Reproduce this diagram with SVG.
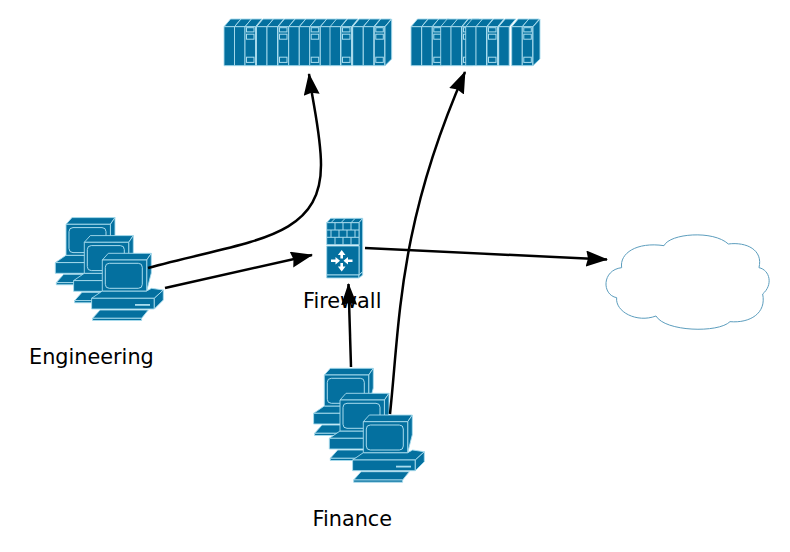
<svg xmlns="http://www.w3.org/2000/svg" width="790" height="552" viewBox="0 0 790 552">
<style>
.b{fill:#04709f;stroke:#a9dcee;stroke-width:.9;stroke-linejoin:round}
.s{fill:none;stroke:#a9dcee;stroke-width:1}
.c{fill:none;stroke:#000;stroke-width:2.5;marker-end:url(#arrow)}
.t{font-family:"DejaVu Sans",sans-serif;font-size:20.8px;fill:#000}
</style>
<defs>
<marker id="arrow" markerUnits="userSpaceOnUse" markerWidth="24" markerHeight="18" refX="21" refY="8" orient="auto">
<path d="M0,0 L22,8 L0,16 L2,8 Z" fill="#000"/>
</marker>
<g id="pc">
<path class="b" d="M-9.7,58.3 L-2.3,50 L46,50 L39.3,58.3 Z"/>
<path class="b" d="M-9.7,58.3 H39.3 V60.5 H-9.7 Z"/>
<path class="b" d="M-10.7,38.3 L0,31 H44.3 L49.3,28.3 L61,30 L52,38.3 Z"/>
<rect class="b" x="-10.7" y="38.3" width="62.7" height="10.7"/>
<path class="b" d="M52,38.3 L61,30 V40 L52,49 Z"/>
<rect x="32.7" y="44" width="15" height="1.8" fill="#a9dcee"/>
<path class="b" d="M0,0 L6,-6.7 H49 L44.4,0 Z"/>
<path class="b" d="M44.4,0 L49,-6.7 V13 L44.4,31 Z"/>
<rect class="b" x="0" y="0" width="44.4" height="31"/>
<rect class="s" x="3" y="3.3" width="37" height="25" rx="4"/>
</g>
<g id="mod">
<path class="b" d="M0,0 L6.5,-7.7 H17 L10.5,0 Z"/>
<rect class="b" x="0" y="0" width="10.5" height="39"/>
</g>
<g id="slot">
<use href="#mod"/>
<rect class="s" x="1.5" y="1" width="7.5" height="4.2"/>
<rect class="s" x="1.5" y="7.5" width="7.5" height="5"/>
<rect class="s" x="1.5" y="30.5" width="7.5" height="5.2"/>
</g>
</defs>
<g id="storage-1">
<g transform="translate(0,26.7)">
<use href="#mod" x="224"/><use href="#mod" x="234.5"/><use href="#slot" x="245"/><use href="#mod" x="256.5"/><use href="#mod" x="267"/><use href="#slot" x="278"/><use href="#mod" x="288.7"/><use href="#mod" x="299.3"/><use href="#slot" x="309.7"/><use href="#mod" x="320.3"/><use href="#mod" x="330"/><use href="#slot" x="341"/><use href="#mod" x="352.7"/><use href="#mod" x="363.3"/><use href="#slot" x="374.3"/>
</g>
<path class="b" d="M385,26.7 L391.7,19 V59 L385,65.7 Z"/>
</g>
<g id="storage-2">
<g transform="translate(0,26.7)">
<use href="#mod" x="411"/><use href="#mod" x="421.7"/><use href="#slot" x="432.3"/><use href="#mod" x="440.7"/><use href="#mod" x="451"/><use href="#slot" x="462"/><use href="#mod" x="465.7"/><use href="#mod" x="476"/><use href="#slot" x="487"/><use href="#mod" x="498.7"/><use href="#mod" x="511.7"/><use href="#slot" x="522.3"/>
</g>
<path class="b" d="M533,26.7 L540,19 V59 L533,65.7 Z"/>
</g>
<g id="engineering">
<use href="#pc" x="66" y="224.3"/><use href="#pc" x="84.3" y="242.3"/><use href="#pc" x="102.3" y="260"/>
<text class="t" x="29" y="364">Engineering</text>
</g>
<g id="finance">
<use href="#pc" transform="translate(324.3,375)"/><use href="#pc" transform="translate(340,400)"/><use href="#pc" transform="translate(363.3,421.7)"/>
<text class="t" x="312.5" y="526">Finance</text>
</g>
<g id="firewall">
<path class="b" d="M326.7,222.7 L330.7,218.3 H362.7 L359,222.7 Z"/>
<path class="b" d="M359,222.7 L362.7,218.3 V271.7 L359,275 Z"/>
<rect class="b" x="326.7" y="222.7" width="32.3" height="22"/>
<path class="s" d="M326.7,230 H359 M326.7,237.3 H359 M335,222.7 V230 M343,222.7 V230 M351,222.7 V230 M331,230 V237.3 M339,230 V237.3 M347,230 V237.3 M355,230 V237.3 M335,237.3 V244.7 M343,237.3 V244.7 M351,237.3 V244.7 M335,218.5 L331,222.7 M345,218.5 L341,222.7 M355,218.5 L351,222.7"/>
<rect class="b" x="326.7" y="246" width="32.3" height="29"/>
<rect class="b" x="326.7" y="275" width="32.3" height="3"/>
<path class="b" d="M359,275 L362.7,271.7 V275 L359,278 Z"/>
<path fill="#fff" d="M341.7,250 L345.5,255 H343 V258.5 H340.4 V255 H337.9 Z M341.7,271.5 L337.9,266.5 H340.4 V263 H343 V266.5 H345.5 Z M331,259.4 H335.5 V257 L340,260.7 L335.5,264.4 V262 H331 Z M352.5,259.4 H348 V257 L343.5,260.7 L348,264.4 V262 H352.5 Z"/>
<text class="t" x="303" y="307.5">Firewall</text>
</g>
<g id="internet">
<path transform="translate(590,225) scale(.3333)" fill="#fff" stroke="#5b9dbd" stroke-width="3" d="M95,128 C88,85 140,50 222,62 C240,25 370,15 415,57 C470,50 520,75 507,128 C540,135 550,180 518,207 C530,265 480,295 420,290 C385,325 225,320 198,273 C140,295 75,260 80,218 C35,210 35,135 95,128 Z"/>
</g>
<g id="connectors">
<path class="c" d="M148,268 C250,240 321,240 321,165 C321,135 313,105 309,74"/>
<path class="c" d="M165,288 L312,255"/>
<path class="c" d="M365,248 L607,259.5"/>
<path class="c" d="M351,367 L348.5,284"/>
<path class="c" d="M390,414 C400,320 398,225 465,72"/>
</g>
</svg>
